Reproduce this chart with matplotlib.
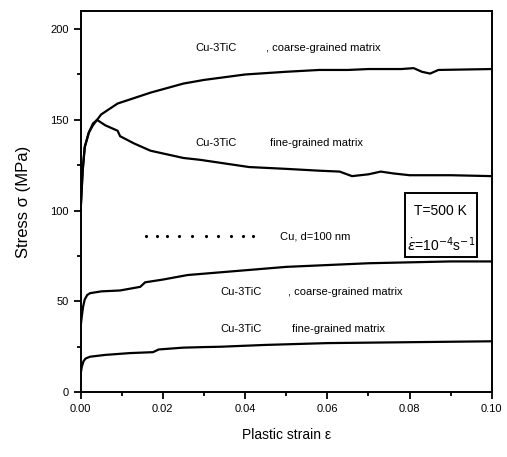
import matplotlib
matplotlib.use("Agg")
import matplotlib.pyplot as plt
from matplotlib.patches import Rectangle
from matplotlib.ticker import MultipleLocator

plt.rcParams['font.family'] = ['Liberation Sans Narrow', 'Liberation Sans', 'DejaVu Sans']

# Cu-3TiC, coarse-grained matrix (upper curve)
coarse_hi_x = [0, 0.0005, 0.001, 0.002, 0.003, 0.005, 0.009, 0.017, 0.025, 0.03,
               0.035, 0.04, 0.05, 0.058, 0.065, 0.07, 0.078, 0.081, 0.083, 0.085,
               0.087, 0.1]
coarse_hi_y = [100, 122, 135, 143, 147, 153, 159, 165, 170, 172,
               173.5, 175, 176.5, 177.5, 177.5, 178, 178, 178.5, 176.5, 175.5,
               177.5, 178]

# Cu-3TiC, fine-grained matrix (upper curve)
fine_hi_x = [0, 0.0005, 0.001, 0.002, 0.003, 0.004, 0.006, 0.009, 0.0096, 0.013,
             0.017, 0.025, 0.029, 0.035, 0.041, 0.05, 0.058, 0.063, 0.066, 0.07,
             0.073, 0.076, 0.08, 0.09, 0.1]
fine_hi_y = [100, 122, 135, 143, 148, 150, 147, 144, 141, 137,
             133, 129, 128, 126, 124, 123, 122, 121.5, 119, 120,
             121.5, 120.5, 119.5, 119.5, 119]

# Cu, d=100 nm (dotted)
cu_x = [0.016, 0.0185, 0.021, 0.024, 0.027, 0.0305, 0.0335, 0.0365, 0.0395, 0.042]
cu_y = [86, 86, 86, 86, 86, 86, 86, 86, 86, 86]

# Cu-3TiC, coarse-grained matrix (lower curve)
coarse_lo_x = [0, 0.0003, 0.0006, 0.001, 0.0016, 0.0023, 0.005, 0.0096, 0.0145, 0.0157,
               0.02, 0.026, 0.034, 0.042, 0.05, 0.06, 0.07, 0.08, 0.09, 0.1]
coarse_lo_y = [36, 42, 47, 51, 53.5, 54.5, 55.5, 56, 58, 60.5,
               62, 64.5, 66, 67.5, 69, 70, 71, 71.5, 72, 72]

# Cu-3TiC, fine-grained matrix (lower curve)
fine_lo_x = [0, 0.0003, 0.0007, 0.0012, 0.0023, 0.006, 0.012, 0.0176, 0.019, 0.025,
             0.03, 0.034, 0.045, 0.06, 0.08, 0.1]
fine_lo_y = [10, 14, 17, 18.5, 19.5, 20.5, 21.5, 22, 23.5, 24.5,
             24.8, 25, 26, 27, 27.5, 28]

x_ticks = [0.00, 0.02, 0.04, 0.06, 0.08, 0.10]
x_ticklabels = ['0.00', '0.02', '0.04', '0.06', '0.08', '0.10']
y_ticks = [0, 50, 100, 150, 200]

fig = plt.figure(figsize=(5.07, 4.57), dpi=100)
ax = fig.add_axes([0.159, 0.142, 0.811, 0.834])

for xs, ys in [(coarse_hi_x, coarse_hi_y), (fine_hi_x, fine_hi_y),
               (coarse_lo_x, coarse_lo_y), (fine_lo_x, fine_lo_y)]:
    ax.plot(xs, ys, color='black', lw=1.6)
ax.plot(cu_x, cu_y, ls='none', marker='.', ms=2.5, color='black')

ax.set_xlim(0, 0.10)
ax.set_ylim(0, 210)
ax.set_xticks(x_ticks)
ax.set_xticklabels(x_ticklabels)
ax.set_yticks(y_ticks)
ax.xaxis.set_minor_locator(MultipleLocator(0.01))
ax.yaxis.set_minor_locator(MultipleLocator(25))
ax.tick_params(which='both', direction='out', width=1.3, labelsize=8)
ax.tick_params(which='major', length=5)
ax.tick_params(which='minor', length=3)
for sp in ax.spines.values():
    sp.set_linewidth(1.4)

ax.set_ylabel('Stress σ (MPa)', fontsize=12, family=['Liberation Sans', 'DejaVu Sans'], labelpad=14)
ax.set_xlabel('Plastic strain ε', fontsize=10, labelpad=10)

fs = 8
ax.text(0.0279, 189.5, 'Cu-3TiC', fontsize=fs, ha='left', va='center')
ax.text(0.0450, 189.5, ', coarse-grained matrix', fontsize=fs, ha='left', va='center')
ax.text(0.0279, 137, 'Cu-3TiC', fontsize=fs, ha='left', va='center')
ax.text(0.0460, 137, 'fine-grained matrix', fontsize=fs, ha='left', va='center')
ax.text(0.0485, 86, 'Cu, d=100 nm', fontsize=fs, ha='left', va='center')
ax.text(0.0340, 55, 'Cu-3TiC', fontsize=fs, ha='left', va='center')
ax.text(0.0505, 55, ', coarse-grained matrix', fontsize=fs, ha='left', va='center')
ax.text(0.0340, 34.5, 'Cu-3TiC', fontsize=fs, ha='left', va='center')
ax.text(0.0515, 34.5, 'fine-grained matrix', fontsize=fs, ha='left', va='center')

ax.add_patch(Rectangle((0.0789, 74.4), 0.0175, 35.2, fill=False, lw=1.4, color='black'))
ax.text(0.0876, 100, 'T=500 K', fontsize=10, ha='center', va='center')
ax.text(0.0876, 81, r'$\dot{\varepsilon}$=10$^{-4}$s$^{-1}$', fontsize=10, ha='center', va='center')

fig.savefig('out.png', dpi=100)
